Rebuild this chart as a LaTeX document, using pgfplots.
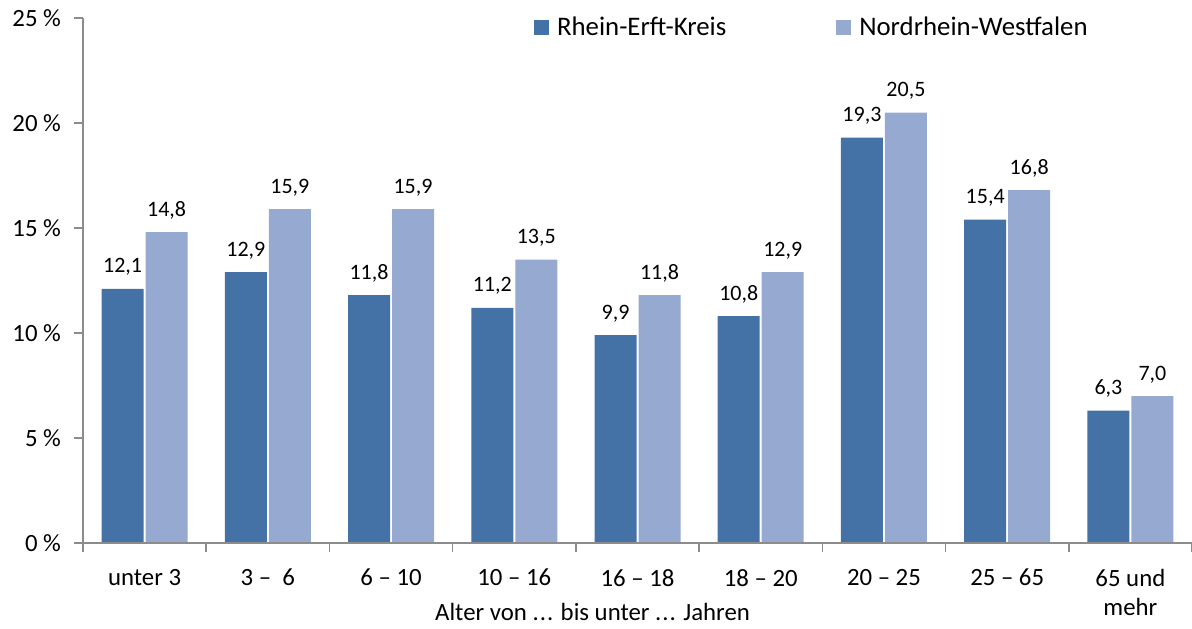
\documentclass[border=0pt]{standalone}
\usepackage{pgfplots}
\pgfplotsset{compat=1.18}
\usepackage{fontspec}
\setmainfont{Carlito}
\definecolor{darkb}{HTML}{4472A6}
\definecolor{lightb}{HTML}{95A9D1}
\definecolor{axgray}{HTML}{8C8C8C}
\newcommand{\lblfont}{\fontsize{12.4}{14.8}\selectfont}
\newcommand{\legfont}{\fontsize{13.4}{16}\selectfont}
\newcommand{\valfont}{\fontsize{11}{13}\selectfont}
\begin{document}
\begin{tikzpicture}
\begin{axis}[
  at={(0pt,0pt)}, anchor=south west,
  scale only axis, width=554.5pt, height=262.5pt,
  xmin=-0.5, xmax=8.5, ymin=0, ymax=25,
  axis on top,
  axis lines*=left,
  axis line style={axgray, line width=0.75pt},
  tick style={axgray, line width=0.75pt},
  tick align=outside,
  major tick length=4.5pt,
  xtick={-0.5,0.5,...,8.5},
  x tick label as interval,
  xticklabels={unter 3, {3 --\ \ 6}, 6 -- 10, 10 -- 16, 16 -- 18, 18 -- 20, 20 -- 25, 25 -- 65, {65 und\\mehr}},
  xticklabel style={font=\lblfont, align=center, text=black, yshift=-5pt},
  ytick={0,5,10,15,20,25},
  yticklabels={0 \%, 5 \%, 10 \%, 15 \%, 20 \%, 25 \%},
  yticklabel style={font=\lblfont, text=black, xshift=-3pt},
  xlabel={Alter von .\kern0.5pt.\kern0.5pt. bis unter .\kern0.5pt.\kern0.5pt. Jahren},
  xlabel style={at={(axis description cs:0.4595,-0.131)}, anchor=center, font=\lblfont},
  ybar=1pt, bar width=21pt,
  /pgf/number format/use comma,
  /pgf/number format/fixed,
  /pgf/number format/fixed zerofill,
  /pgf/number format/precision=1,
  /pgf/number format/assume math mode=true,
  nodes near coords,
  nodes near coords style={font=\valfont, text=black, anchor=base, inner sep=0pt, yshift=8pt},
  legend columns=2,
  legend style={at={(axis description cs:0.401,1.019)}, anchor=north west, draw=none, fill=none, font=\legfont,
    /tikz/every odd column/.append style={column sep=2pt},
    /tikz/every even column/.append style={column sep=53pt}},
  legend image code/.code={\fill[#1,draw=none] (0pt,-3.75pt) rectangle (7.5pt,3.75pt);},
]
\addplot[fill=darkb, draw=none] coordinates {
  (0,12.1) (1,12.9) (2,11.8) (3,11.2) (4,9.9) (5,10.8) (6,19.3) (7,15.4) (8,6.3)};
\addplot[fill=lightb, draw=none] coordinates {
  (0,14.8) (1,15.9) (2,15.9) (3,13.5) (4,11.8) (5,12.9) (6,20.5) (7,16.8) (8,7.0)};
\legend{Rhein-Erft-Kreis, Nordrhein-Westfalen}
\end{axis}
\pgfresetboundingbox
\path[use as bounding box] (-41.5pt,-42.5pt) rectangle (554.5pt,271.5pt);
\end{tikzpicture}
\end{document}
